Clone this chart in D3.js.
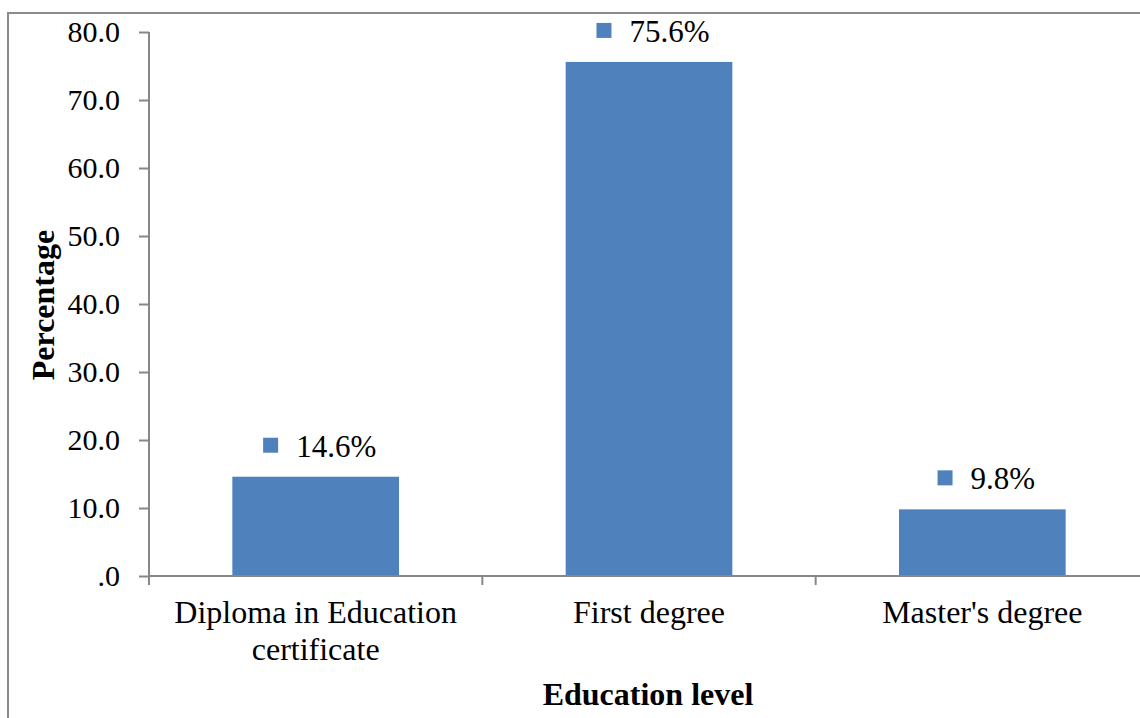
<!DOCTYPE html>
<html>
<head>
<meta charset="utf-8">
<script src="https://cdn.jsdelivr.net/npm/d3@7"></script>
<style>
  html, body { margin: 0; padding: 0; background: #fff; }
  svg { display: block; }
  text { font-family: "Liberation Serif", "Times New Roman", serif; fill: #000; }
</style>
</head>
<body>
<svg id="chart" width="1140" height="718"></svg>
<script>
// ---- data ----
const categories = [["Diploma in Education", "certificate"], ["First degree"], ["Master's degree"]];
const categoryKeys = ["Diploma in Education certificate", "First degree", "Master's degree"];
const values = [14.6, 75.6, 9.8];
const valueLabels = ["14.6%", "75.6%", "9.8%"];
const yTickValues = [0, 10, 20, 30, 40, 50, 60, 70, 80];
const yTickLabels = [".0", "10.0", "20.0", "30.0", "40.0", "50.0", "60.0", "70.0", "80.0"];
const yTitle = "Percentage";
const xTitle = "Education level";

// ---- layout ----
const svg = d3.select("#chart");
const axisColor = "#878787";
const barColor = "#4F81BD";
const plotLeft = 149, plotRight = 1149, plotTop = 32, plotBottom = 576;

// frame
svg.append("rect")
  .attr("x", 8).attr("y", 13).attr("width", 1300).attr("height", 900)
  .attr("fill", "none").attr("stroke", "#8a8a8a").attr("stroke-width", 2);

const x = d3.scaleBand().domain(categoryKeys).range([plotLeft, plotRight])
  .paddingInner(0.5).paddingOuter(0.25);
const y = d3.scaleLinear().domain([0, 80]).range([plotBottom, plotTop]);

// y axis
const yAxis = d3.axisLeft(y).tickValues(yTickValues)
  .tickFormat((d, i) => yTickLabels[i]).tickSizeOuter(0).tickSizeInner(10).tickPadding(19);
const gy = svg.append("g").attr("transform", `translate(${plotLeft},0)`).call(yAxis);
gy.select(".domain").attr("stroke", axisColor).attr("stroke-width", 2)
  .attr("d", `M0,${plotTop}V${plotBottom + 9}`);
gy.selectAll(".tick line").attr("stroke", axisColor).attr("stroke-width", 2);
gy.selectAll(".tick text").style("font-size", "30px")
  .style("font-family", '"Liberation Serif", "Times New Roman", serif').attr("fill", "#000").attr("dy", "0.33em");

// bars
svg.append("g").selectAll("rect").data(values).join("rect")
  .attr("x", (d, i) => x(categoryKeys[i]))
  .attr("y", d => y(d))
  .attr("width", x.bandwidth())
  .attr("height", d => y(0) - y(d))
  .attr("fill", barColor);

// x axis
const gx = svg.append("g");
gx.append("line").attr("x1", plotLeft).attr("x2", 1140 + 10)
  .attr("y1", y(0)).attr("y2", y(0)).attr("stroke", axisColor).attr("stroke-width", 2);
const boundaries = categoryKeys.map((k, i) => plotLeft + i * x.step()).slice(1);
gx.selectAll("line.tick").data(boundaries).join("line").attr("class", "tick")
  .attr("x1", d => d).attr("x2", d => d)
  .attr("y1", y(0)).attr("y2", y(0) + 9).attr("stroke", axisColor).attr("stroke-width", 2);

// category labels
categories.forEach((lines, i) => {
  const cx = x(categoryKeys[i]) + x.bandwidth() / 2;
  const t = svg.append("text").attr("text-anchor", "middle").style("font-size", "32px");
  lines.forEach((ln, j) => {
    t.append("tspan").attr("x", cx).attr("y", 623 + j * 37).text(ln);
  });
});

// value labels with legend key
const gap = 18, keySize = 15;
values.forEach((v, i) => {
  const cx = x(categoryKeys[i]) + x.bandwidth() / 2;
  const base = y(v) - 20;
  const g = svg.append("g");
  const t = g.append("text").attr("y", base).style("font-size", "31px").text(valueLabels[i]);
  const tw = t.node().getComputedTextLength();
  const total = keySize + gap + tw;
  const left = cx - total / 2 + 4;
  g.append("rect").attr("x", left).attr("y", base - 19).attr("width", keySize).attr("height", keySize)
    .attr("fill", barColor);
  t.attr("x", left + keySize + gap);
});

// axis titles
svg.append("text").attr("text-anchor", "middle")
  .attr("transform", `translate(54,305) rotate(-90)`)
  .style("font-size", "32px").style("font-weight", "bold").text(yTitle);
svg.append("text").attr("text-anchor", "middle")
  .attr("x", 648).attr("y", 705)
  .style("font-size", "32px").style("font-weight", "bold").text(xTitle);
</script>
</body>
</html>
